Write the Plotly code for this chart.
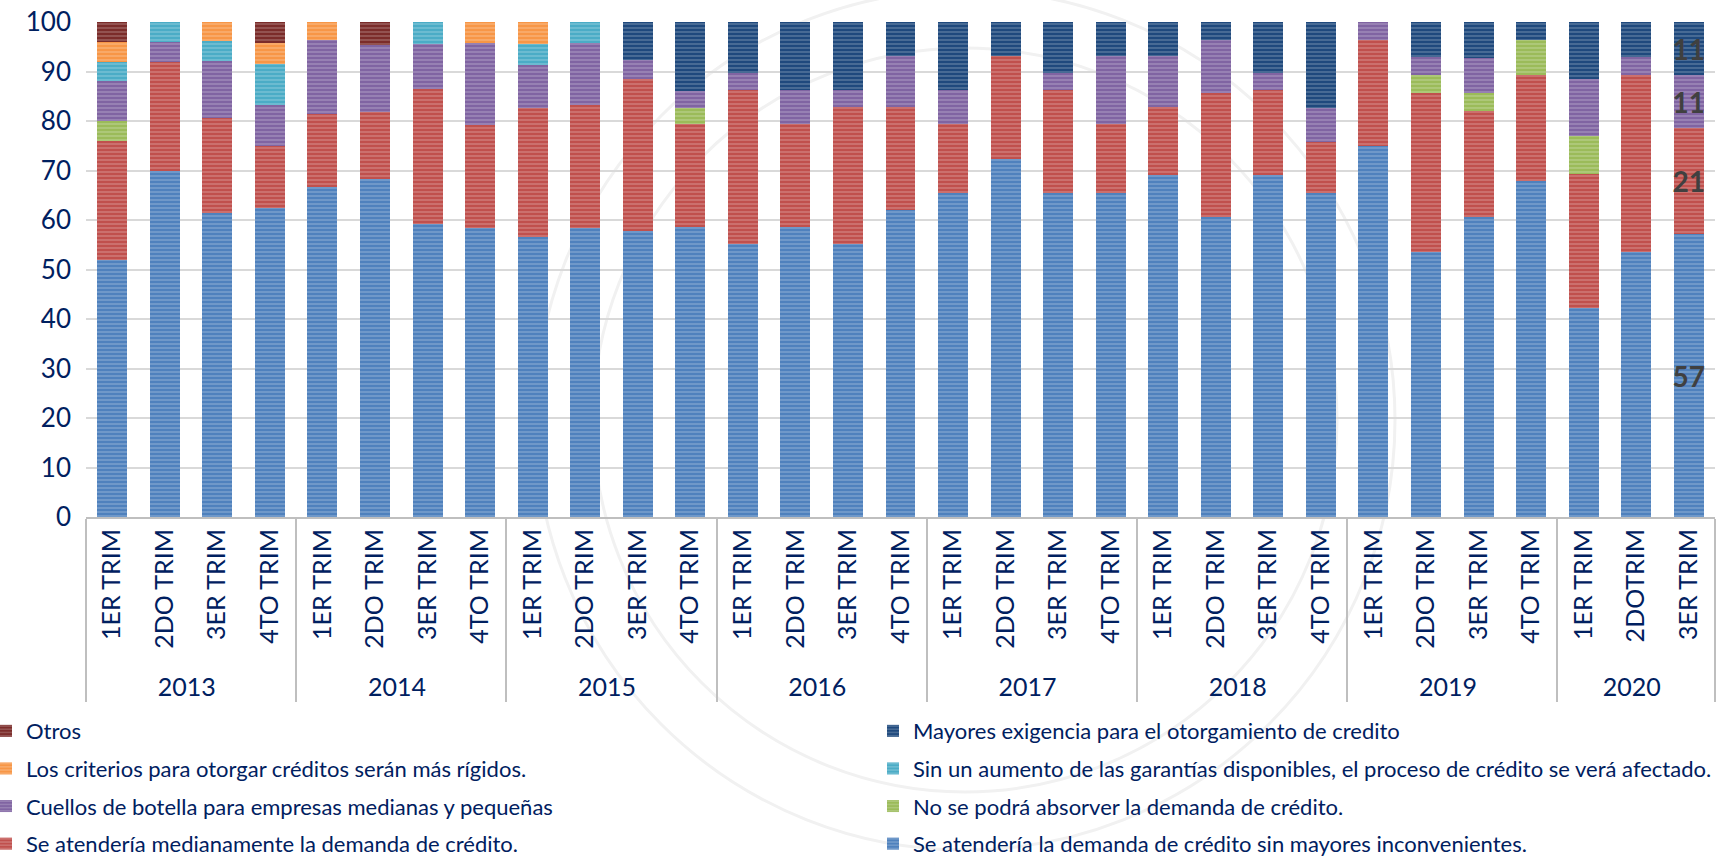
import plotly.graph_objects as go

years = ["2013"] * 4 + ["2014"] * 4 + ["2015"] * 4 + ["2016"] * 4 + ["2017"] * 4 + ["2018"] * 4 + ["2019"] * 4 + ["2020"] * 3
quarters = ["1ER TRIM", "2DO TRIM", "3ER TRIM", "4TO TRIM"] * 7 + ["1ER TRIM", "2DOTRIM", "3ER TRIM"]

sin_mayores = [52, 70, 61.5, 62.5, 66.7, 68.2, 59.1, 58.3, 56.5, 58.3, 57.7, 58.6, 55.2, 58.6, 55.2, 62.1,
               65.5, 72.4, 65.5, 65.5, 69.0, 60.7, 69.0, 65.5, 75.0, 53.6, 60.7, 67.9, 42.3, 53.6, 57.1]
medianamente = [24, 22, 19.2, 12.5, 14.8, 13.6, 27.3, 20.8, 26.1, 25.0, 30.8, 20.7, 31.0, 20.7, 27.6, 20.7,
                13.8, 20.7, 20.7, 13.8, 13.8, 25.0, 17.2, 10.3, 21.4, 32.1, 21.4, 21.4, 27.0, 35.7, 21.4]
no_absorver = [4, 0, 0, 0, 0, 0, 0, 0, 0, 0, 0, 3.4, 0, 0, 0, 0,
               0, 0, 0, 0, 0, 0, 0, 0, 0, 3.6, 3.6, 7.1, 7.7, 0, 0]
cuellos = [8, 4, 11.5, 8.3, 14.8, 13.6, 9.1, 16.7, 8.7, 12.5, 3.8, 3.4, 3.4, 6.9, 3.4, 10.3,
           6.9, 0, 3.4, 13.8, 10.3, 10.7, 3.4, 6.9, 3.6, 3.6, 7.1, 0, 11.5, 3.6, 10.7]
sin_garantias = [4, 4, 3.9, 8.3, 0, 0, 4.5, 0, 4.3, 4.2, 0, 0, 0, 0, 0, 0,
                 0, 0, 0, 0, 0, 0, 0, 0, 0, 0, 0, 0, 0, 0, 0]
criterios = [4, 0, 3.9, 4.2, 3.7, 0, 0, 4.2, 4.4, 0, 0, 0, 0, 0, 0, 0,
             0, 0, 0, 0, 0, 0, 0, 0, 0, 0, 0, 0, 0, 0, 0]
mayores = [0, 0, 0, 0, 0, 0, 0, 0, 0, 0, 7.7, 13.9, 10.4, 13.8, 13.8, 6.9,
           13.8, 6.9, 10.4, 6.9, 6.9, 3.6, 10.4, 17.3, 0, 7.1, 7.2, 3.6, 11.5, 7.1, 10.8]
otros = [4, 0, 0, 4.2, 0, 4.6, 0, 0, 0, 0, 0, 0, 0, 0, 0, 0,
         0, 0, 0, 0, 0, 0, 0, 0, 0, 0, 0, 0, 0, 0, 0]

series = [
    ("Se atendería la demanda de crédito sin mayores inconvenientes.", sin_mayores, "#4F81BD", "legend2"),
    ("Se atendería medianamente la demanda de crédito.", medianamente, "#C0504D", "legend"),
    ("No se podrá absorver la demanda de crédito.", no_absorver, "#9BBB59", "legend2"),
    ("Cuellos de botella para empresas medianas y pequeñas", cuellos, "#8064A2", "legend"),
    ("Sin un aumento de las garantías disponibles, el proceso de crédito se verá afectado.", sin_garantias, "#4BACC6", "legend2"),
    ("Los criterios para otorgar créditos serán más rígidos.", criterios, "#F79646", "legend"),
    ("Mayores exigencia para el otorgamiento de credito", mayores, "#1F497D", "legend2"),
    ("Otros", otros, "#7B2C2A", "legend"),
]

NAVY = "#002060"
FONT = "Lato"

# Point order fed to the multicategory axis so that plotly keeps the
# intended quarter order (inner labels are ordered by first appearance).
n = len(years)
first_of_year = [years.index(y) for y in dict.fromkeys(years)]
lead = first_of_year + [1, n - 2]
seq = lead + [i for i in range(n) if i not in lead]

fig = go.Figure()
for k, (name, vals, color, leg) in enumerate(series):
    texts = [""] * n
    if vals[-1] > 0:
        texts[-1] = "<b>%d</b>" % round(vals[-1])
    fig.add_trace(go.Bar(
        x=[[years[i] for i in seq], [quarters[i] for i in seq]],
        y=[vals[i] for i in seq],
        text=[texts[i] for i in seq],
        name=name, legend=leg, legendgroup=name, legendrank=100 - k,
        marker=dict(color=color, line=dict(width=0),
                    pattern=dict(shape="-", size=4, solidity=0.3, fillmode="overlay",
                                 fgcolor="rgba(255,255,255,0.6)")),
        textposition="inside", insidetextanchor="middle",
        constraintext="none", textangle=0,
        textfont=dict(family=FONT, size=28, color="#404040"),
        hoverinfo="name+y",
    ))

# faint background seal
for r in (430, 372):
    fig.add_shape(type="circle", xref="paper", yref="paper", layer="below",
                  x0=(965 - r - 86) / 1629, x1=(965 + r - 86) / 1629,
                  y0=(517 - 420 - r) / 495, y1=(517 - 420 + r) / 495,
                  line=dict(color="#F1F1F1", width=3))

fig.update_layout(
    width=1729, height=859,
    barmode="stack", bargap=0.43,
    plot_bgcolor="rgba(0,0,0,0)", paper_bgcolor="white",
    margin=dict(l=86, r=14, t=22, b=342, autoexpand=False),
    font=dict(family=FONT, color=NAVY, size=22),
    xaxis=dict(
        type="multicategory", showline=True, linecolor="#BFBFBF", linewidth=2,
        ticks="", tickangle=-90, tickfont=dict(family=FONT, size=25, color=NAVY),
        showdividers=True, dividercolor="#BFBFBF", dividerwidth=2,
        showgrid=False,
    ),
    yaxis=dict(
        range=[0, 100], dtick=10, showgrid=True, gridcolor="#D9D9D9", gridwidth=2,
        zeroline=False, showline=False, ticks="",
        tickfont=dict(family=FONT, size=26, color=NAVY), ticklabelstandoff=14,
    ),
    legend=dict(
        x=(-14 - 86) / 1629, xanchor="left", y=-0.390, yanchor="top",
        traceorder="grouped", tracegroupgap=6,
        font=dict(family=FONT, size=22, color=NAVY), bgcolor="rgba(0,0,0,0)",
    ),
    legend2=dict(
        x=(873 - 86) / 1629, xanchor="left", y=-0.390, yanchor="top",
        traceorder="grouped", tracegroupgap=6,
        font=dict(family=FONT, size=22, color=NAVY), bgcolor="rgba(0,0,0,0)",
    ),
    showlegend=True,
)

fig.write_html("out.html", config={"displayModeBar": False},
               post_script="document.body.style.margin='0';document.body.style.overflow='hidden';")
